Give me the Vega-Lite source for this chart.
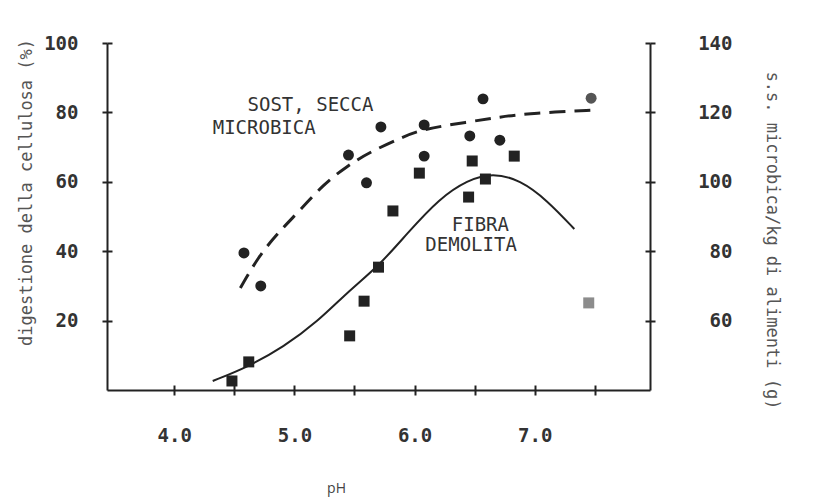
{
  "$schema": "https://vega.github.io/schema/vega-lite/v6.json",
  "width": 543,
  "height": 347,
  "autosize": "none",
  "padding": {"left": 107, "top": 43, "right": 165, "bottom": 108},
  "background": "white",
  "config": {"view": {"stroke": null}},
  "datasets": {
    "fibra_punti": [
      {"pH": 4.48, "valore": 2.6}, {"pH": 4.62, "valore": 8.1}, {"pH": 5.46, "valore": 15.6},
      {"pH": 5.58, "valore": 25.6}, {"pH": 5.70, "valore": 35.4}, {"pH": 5.82, "valore": 51.6},
      {"pH": 6.04, "valore": 62.5}, {"pH": 6.45, "valore": 55.6}, {"pH": 6.48, "valore": 66.0},
      {"pH": 6.59, "valore": 60.8}, {"pH": 6.83, "valore": 67.4}, {"pH": 7.45, "valore": 25.1}
    ],
    "fibra_curva": [
      {"pH": 4.32, "valore": 2.6}, {"pH": 4.61, "valore": 6.6}, {"pH": 4.91, "valore": 12.4},
      {"pH": 5.19, "valore": 19.6}, {"pH": 5.46, "valore": 28.8}, {"pH": 5.71, "valore": 36.0},
      {"pH": 5.94, "valore": 45.2}, {"pH": 6.21, "valore": 55.3}, {"pH": 6.44, "valore": 60.5},
      {"pH": 6.65, "valore": 62.6}, {"pH": 6.88, "valore": 60.5}, {"pH": 7.10, "valore": 54.8},
      {"pH": 7.33, "valore": 46.4}
    ],
    "ss_punti": [
      {"pH": 4.58, "ss": 79.5}, {"pH": 4.72, "ss": 70.0}, {"pH": 5.45, "ss": 107.7},
      {"pH": 5.60, "ss": 99.7}, {"pH": 5.72, "ss": 115.8}, {"pH": 6.08, "ss": 116.4},
      {"pH": 6.08, "ss": 107.4}, {"pH": 6.46, "ss": 113.2}, {"pH": 6.57, "ss": 123.9},
      {"pH": 6.71, "ss": 112.0}, {"pH": 7.47, "ss": 124.1}
    ],
    "ss_curva": [
      {"pH": 4.55, "ss": 69.4}, {"pH": 4.70, "ss": 78.4}, {"pH": 4.86, "ss": 85.2},
      {"pH": 5.05, "ss": 91.9}, {"pH": 5.24, "ss": 99.2}, {"pH": 5.44, "ss": 104.6},
      {"pH": 5.63, "ss": 108.6}, {"pH": 5.90, "ss": 112.9}, {"pH": 6.07, "ss": 115.2},
      {"pH": 6.44, "ss": 117.2}, {"pH": 6.71, "ss": 118.7}, {"pH": 6.98, "ss": 119.8},
      {"pH": 7.52, "ss": 120.7}
    ],
    "etichette": [
      {"pH": 4.61, "valore": 82.1, "testo": "SOST, SECCA"},
      {"pH": 4.32, "valore": 75.5, "testo": "MICROBICA"},
      {"pH": 6.31, "valore": 47.6, "testo": "FIBRA"},
      {"pH": 6.09, "valore": 41.8, "testo": "DEMOLITA"}
    ]
  },
  "layer": [
    {
      "layer": [
        {
          "data": {"name": "fibra_curva"},
          "mark": {"type": "line", "interpolate": "basis", "color": "#222", "strokeWidth": 2},
          "encoding": {
            "x": {
              "field": "pH", "type": "quantitative",
              "scale": {"domain": [3.44, 7.96], "nice": false, "zero": false},
              "axis": {
                "orient": "bottom",
                "values": [4, 4.5, 5, 5.5, 6, 6.5, 7, 7.5],
                "labelExpr": "datum.value % 1 === 0 ? format(datum.value, '.1f') : ''",
                "grid": false,
                "domainColor": "#222", "domainWidth": 2,
                "tickColor": "#222", "tickWidth": 2, "tickSize": 5,
                "labelFont": "DejaVu Sans Mono", "labelFontWeight": "bold", "labelFontSize": 19,
                "labelColor": "#333", "labelPadding": 31, "labelDx": 3,
                "title": "pH", "titleFont": "Open Sans", "titleFontWeight": "normal",
                "titleFontSize": 14, "titleColor": "#444",
                "titleX": 229, "titleY": 98, "titleBaseline": "middle"
              }
            },
            "y": {
              "field": "valore", "type": "quantitative",
              "scale": {"domain": [0, 100], "nice": false},
              "axis": {
                "orient": "left",
                "values": [20, 40, 60, 80, 100],
                "grid": false,
                "domainColor": "#222", "domainWidth": 2,
                "tickColor": "#222", "tickWidth": 2, "tickSize": 5,
                "labelFont": "DejaVu Sans Mono", "labelFontWeight": "bold", "labelFontSize": 19,
                "labelColor": "#333", "labelPadding": 24,
                "title": "digestione della cellulosa (%)",
                "titleFont": "DejaVu Sans Mono", "titleFontWeight": "normal",
                "titleFontSize": 17, "titleColor": "#555", "titlePadding": 8,
                "titleY": 149
              }
            }
          }
        },
        {
          "data": {"name": "fibra_punti"},
          "mark": {"type": "square", "size": 121, "opacity": 1, "filled": true},
          "encoding": {
            "x": {
              "field": "pH", "type": "quantitative",
              "axis": {
                "orient": "bottom",
                "values": [4, 4.5, 5, 5.5, 6, 6.5, 7, 7.5],
                "domain": false, "labels": false, "title": null, "grid": false,
                "tickColor": "#222", "tickWidth": 2, "tickSize": 5, "offset": -5
              }
            },
            "y": {
              "field": "valore", "type": "quantitative",
              "axis": {
                "orient": "left",
                "values": [20, 40, 60, 80, 100],
                "domain": false, "labels": false, "title": null, "grid": false,
                "tickColor": "#222", "tickWidth": 2, "tickSize": 5, "offset": -5
              }
            },
            "color": {"condition": {"test": "datum.pH > 7.4", "value": "#8c8c8c"}, "value": "#222"}
          }
        },
        {
          "data": {"name": "etichette"},
          "mark": {"type": "text", "align": "left", "baseline": "middle", "font": "DejaVu Sans Mono", "fontSize": 19, "color": "#333"},
          "encoding": {
            "x": {"field": "pH", "type": "quantitative", "axis": null},
            "y": {"field": "valore", "type": "quantitative", "axis": null},
            "text": {"field": "testo"}
          }
        }
      ],
      "resolve": {"axis": {"x": "independent", "y": "independent"}}
    },
    {
      "layer": [
        {
          "data": {"name": "ss_curva"},
          "mark": {"type": "line", "interpolate": "basis", "color": "#222", "strokeWidth": 3, "strokeDash": [16, 9]},
          "encoding": {
            "x": {"field": "pH", "type": "quantitative", "axis": null},
            "y": {
              "field": "ss", "type": "quantitative",
              "scale": {"domain": [40, 140], "nice": false, "zero": false},
              "axis": {
                "orient": "right",
                "values": [60, 80, 100, 120, 140],
                "grid": false,
                "domainColor": "#222", "domainWidth": 2,
                "tickColor": "#222", "tickWidth": 2, "tickSize": 5,
                "labelFont": "DejaVu Sans Mono", "labelFontWeight": "bold", "labelFontSize": 19,
                "labelColor": "#333", "labelAlign": "right", "labelPadding": 77,
                "title": "s.s. microbica/kg di alimenti (g)",
                "titleFont": "DejaVu Sans Mono", "titleFontWeight": "normal",
                "titleFontSize": 17, "titleColor": "#555", "titlePadding": 30,
                "titleY": 197
              }
            }
          }
        },
        {
          "data": {"name": "ss_punti"},
          "mark": {"type": "circle", "size": 120, "opacity": 1},
          "encoding": {
            "x": {"field": "pH", "type": "quantitative", "axis": null},
            "y": {
              "field": "ss", "type": "quantitative",
              "axis": {
                "orient": "right",
                "values": [60, 80, 100, 120, 140],
                "domain": false, "labels": false, "title": null, "grid": false,
                "tickColor": "#222", "tickWidth": 2, "tickSize": 5, "offset": -5
              }
            },
            "color": {"condition": {"test": "datum.pH > 7.4", "value": "#555"}, "value": "#222"}
          }
        }
      ],
      "resolve": {"axis": {"y": "independent"}}
    }
  ],
  "resolve": {"scale": {"y": "independent"}, "axis": {"x": "independent"}}
}
